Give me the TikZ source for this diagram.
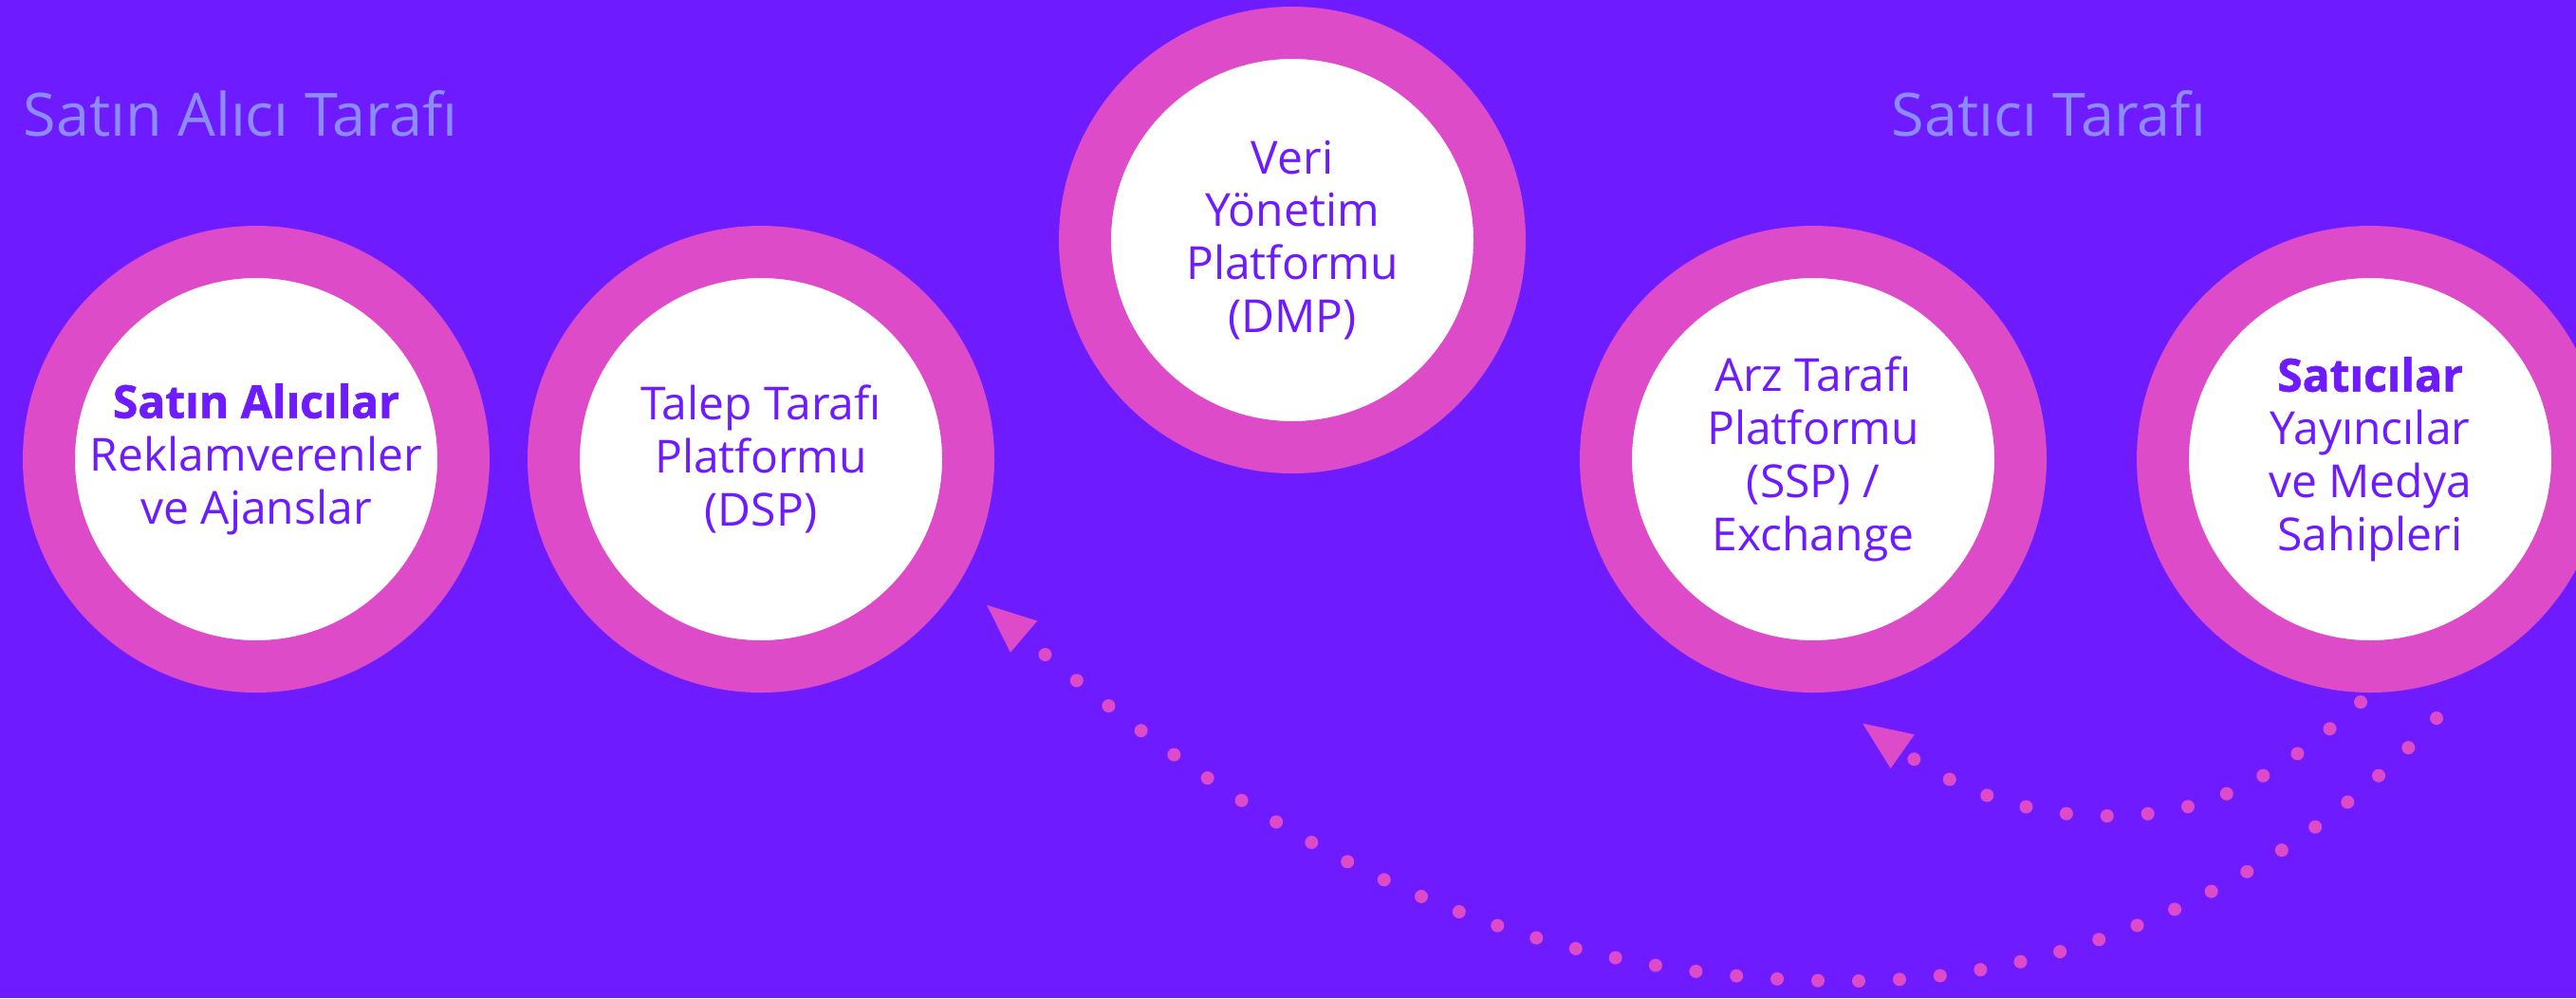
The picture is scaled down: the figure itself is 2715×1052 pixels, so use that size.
\documentclass[tikz,border=0pt]{standalone}
\usepackage{fontspec}
\setmainfont{Open Sans}[BoldFeatures={FakeBold=1.2}]
\usetikzlibrary{arrows.meta}
\definecolor{bgc}{RGB}{110,28,255}
\definecolor{ringc}{RGB}{222,75,200}
\definecolor{titlec}{RGB}{140,140,255}
\definecolor{txtc}{RGB}{110,28,255}
\begin{document}
\begin{tikzpicture}[x=0.1mm,y=-0.1mm,
  ringnode/.style={circle, draw=ringc, fill=white, line width=5.5mm, minimum size=43.7mm, inner sep=0pt, align=center, text=txtc, font=\fontsize{13.66pt}{15.9pt}\selectfont},
  sidetitle/.style={anchor=base west, inner sep=0pt, text=titlec, font=\fontsize{17.9pt}{20pt}\selectfont},
  dotline/.style={draw=ringc, line width=1.4mm, line cap=round, dash pattern=on 0pt off 4.3mm},
  arrowend/.style={-{Triangle[length=5.4mm, width=3.9mm, fill=ringc, color=ringc]}}
]
\useasboundingbox (0,0) rectangle (2715,1052);
\clip (0,0) rectangle (2715,1052);
\fill[bgc] (0,0) rectangle (2715,1052);

\node[sidetitle] (buyside) at (24,143) {Satın Alıcı Tarafı};
\node[sidetitle] (sellside) at (1993,143) {Satıcı Tarafı};

\node[ringnode] (buyers) at (270,484) {\textbf{Satın Alıcılar}\\Reklamverenler\\ve Ajanslar};
\node[ringnode] (dsp) at (802,484) {Talep Tarafı\\Platformu\\(DSP)};
\node[ringnode] (dmp) at (1362,253) {Veri\\Yönetim\\Platformu\\(DMP)};
\node[ringnode] (ssp) at (1911,484) {Arz Tarafı\\Platformu\\(SSP) /\\Exchange};
\node[ringnode] (sellers) at (2498,484) {\textbf{Satıcılar}\\Yayıncılar\\ve Medya\\Sahipleri};

\coordinate (aStart) at (2568,757);
\coordinate (aEnd) at (1038,636);
\coordinate (bStart) at (2488,740);
\coordinate (bEnd) at (1961,761);

\draw[dotline, arrowend] (aStart) .. controls (2423,917) and (2200,1034) .. (1950,1034)
  .. controls (1600,1034) and (1351,903) .. (aEnd);
\draw[dotline, arrowend] (bStart) .. controls (2392,827) and (2321,860) .. (2221,860)
  .. controls (2121,860) and (2049,823) .. (bEnd);
\end{tikzpicture}
\end{document}
